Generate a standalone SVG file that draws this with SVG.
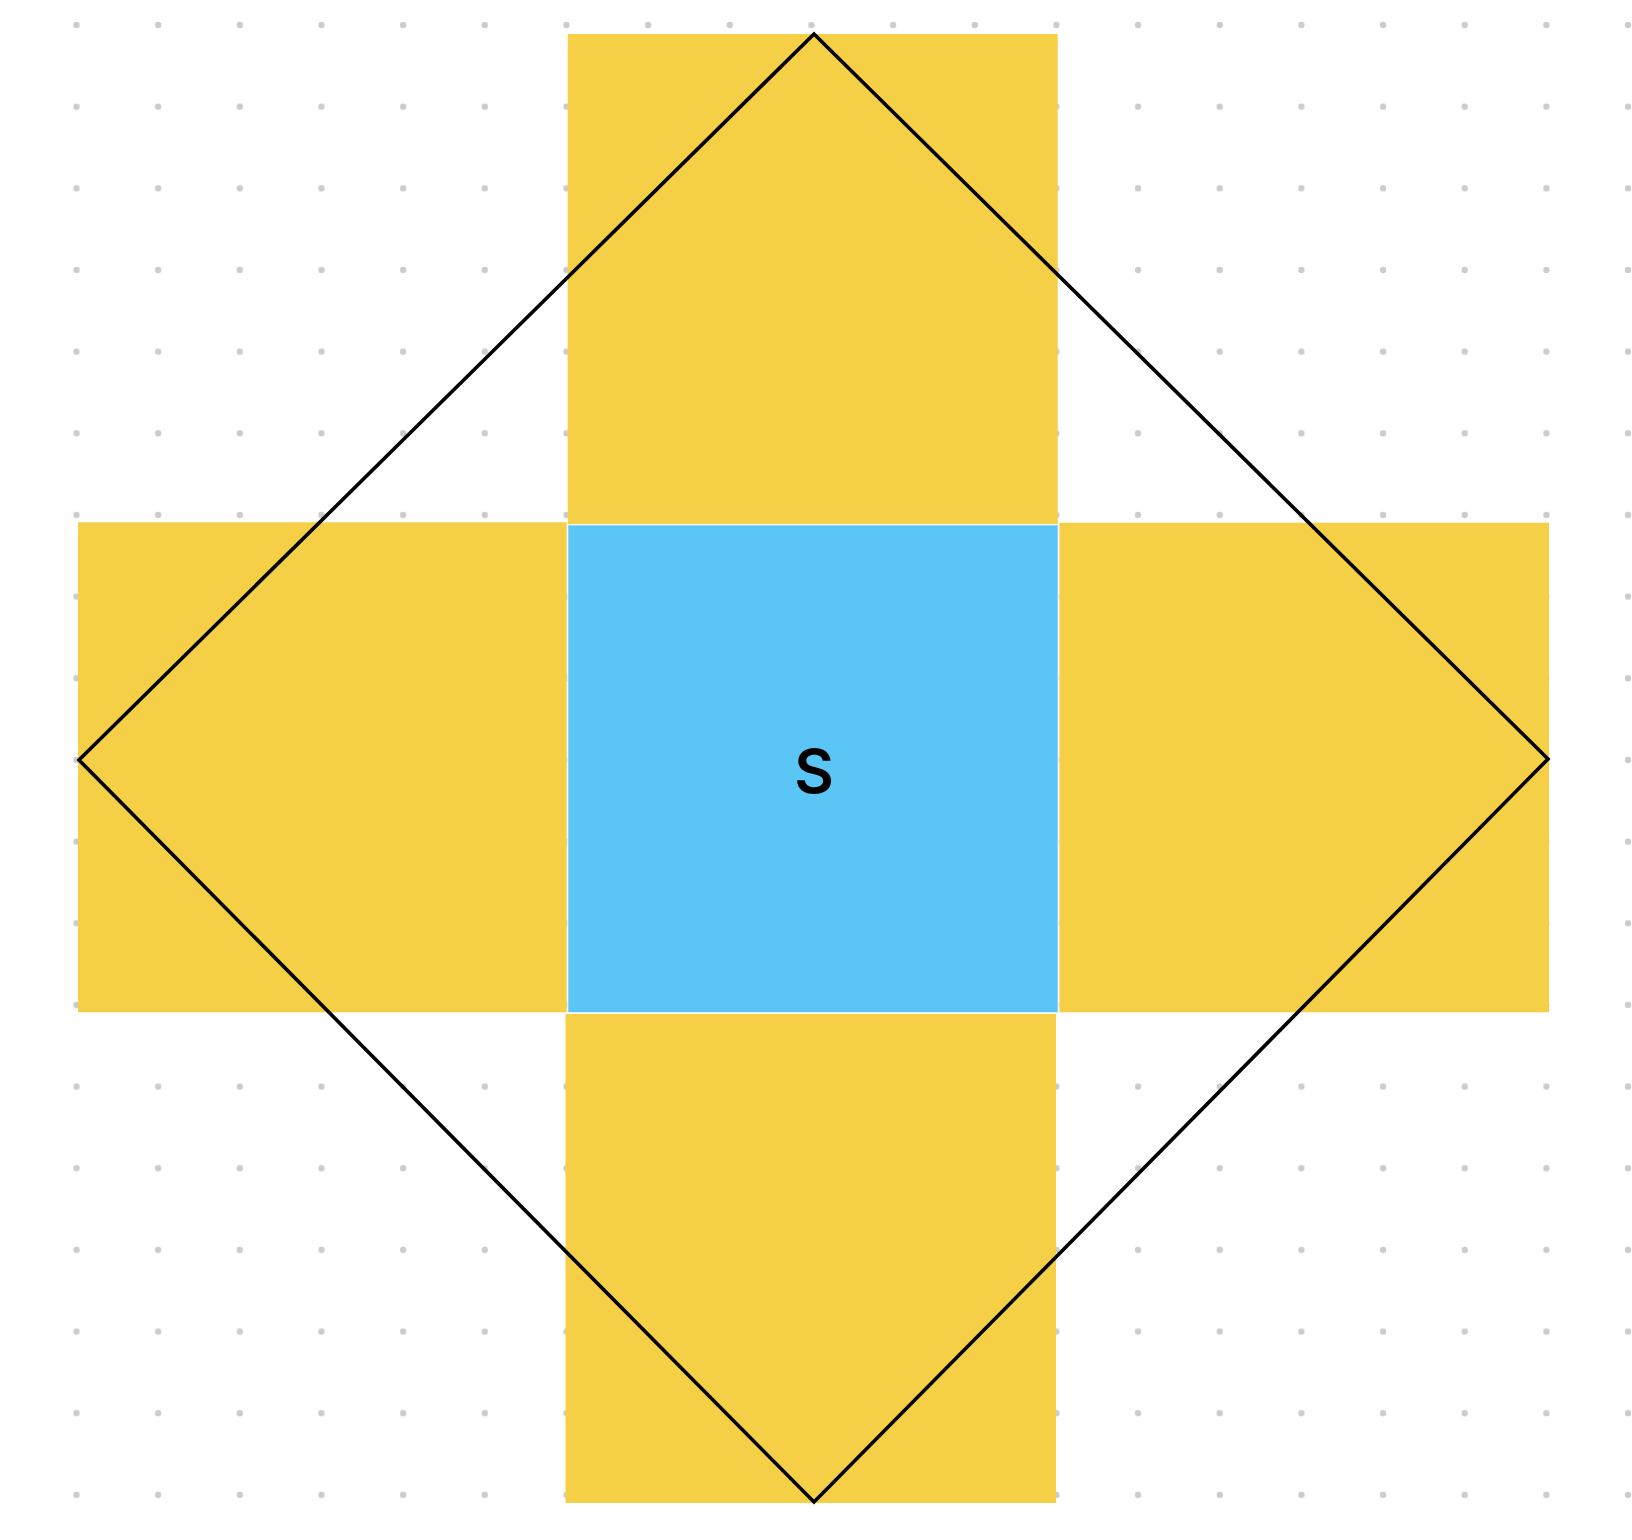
<svg xmlns="http://www.w3.org/2000/svg" width="1632" height="1540" viewBox="0 0 1632 1540">
  <defs>
    <style>
      .dot { fill: #cccccc; }
      .face { fill: #F5CF46; }
      .base { fill: #5BC5F5; stroke: #ffffff; stroke-width: 1; }
      .edge { fill: none; stroke: #000000; stroke-width: 3.6; stroke-linejoin: miter; }
      .lbl { font-family: Inter, "Liberation Sans", Arial, sans-serif; font-weight: 600; font-size: 61px; fill: #000000; text-anchor: middle; }
    </style>
    <pattern id="grid" x="76.5" y="25" width="81.66" height="81.66" patternUnits="userSpaceOnUse">
      <circle class="dot" cx="0" cy="0" r="3.2"/>
      <circle class="dot" cx="81.66" cy="0" r="3.2"/>
      <circle class="dot" cx="0" cy="81.66" r="3.2"/>
      <circle class="dot" cx="81.66" cy="81.66" r="3.2"/>
    </pattern>
  </defs>
  <rect width="1632" height="1540" fill="#ffffff"/>
  <g id="grid-dots">
    <rect x="72" y="20" width="1562" height="1480" fill="url(#grid)"/>
  </g>
  <g id="face-top"><rect class="face" x="567.7" y="34" width="490" height="490.3"/></g>
  <g id="face-left"><rect class="face" x="78" y="522.3" width="488.7" height="490"/></g>
  <g id="face-right"><rect class="face" x="1059.5" y="522.7" width="489.5" height="489.6"/></g>
  <g id="face-bottom"><rect class="face" x="565.5" y="1014" width="490.5" height="489"/></g>
  <g id="base-S">
    <rect class="base" x="567.8" y="524.8" width="490.4" height="488"/>
    <text class="lbl" x="814" y="793">S</text>
  </g>
  <g id="connectors">
    <polygon class="edge" points="814,34 1548,759 814,1502 79,760"/>
  </g>
</svg>
